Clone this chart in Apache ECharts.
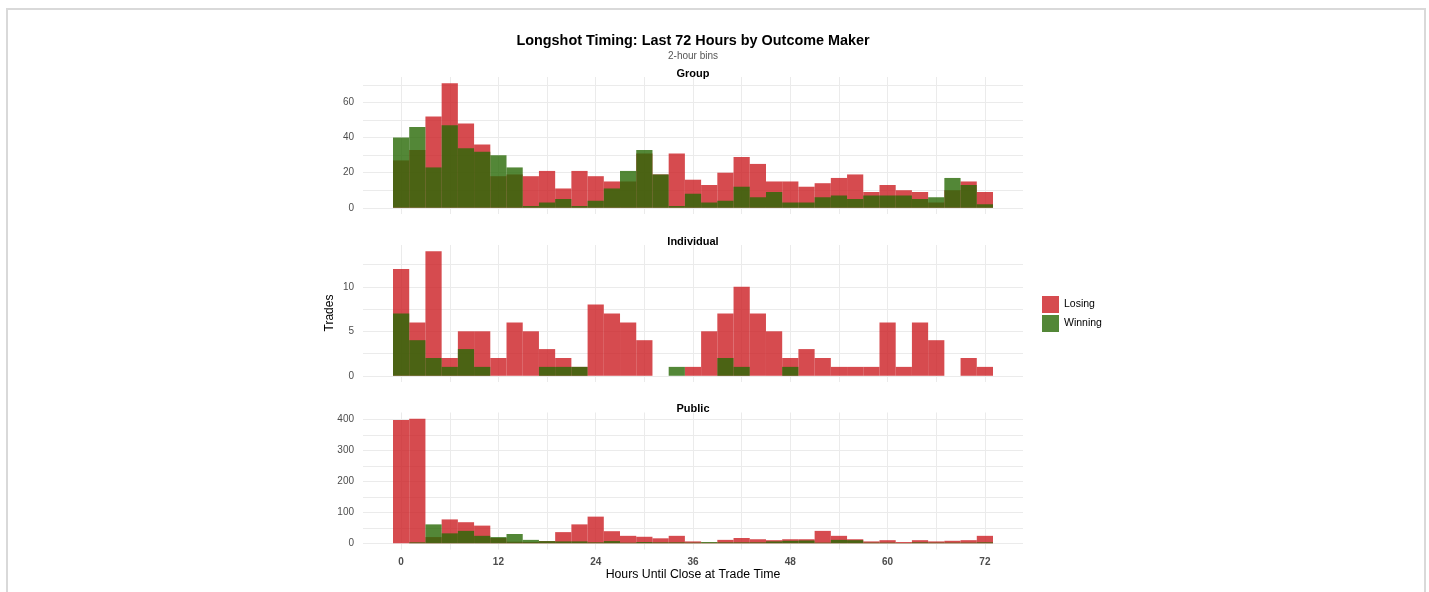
<!DOCTYPE html>
<html>
<head>
<meta charset="utf-8">
<script src="https://cdn.jsdelivr.net/npm/echarts@6/dist/echarts.min.js"></script>
<style>
  html, body { margin: 0; padding: 0; background: #fff; }
  #chart { width: 1429px; height: 592px; }
  .frame { position: absolute; left: 6px; top: 8px; width: 1416px; height: 600px;
           border: 2px solid #d9d9d9; pointer-events: none; }
</style>
</head>
<body>
<div id="chart"></div>
<div class="frame"></div>
<script>
// bin centres, hours until close (2-hour bins)
const hours = [0, 2, 4, 6, 8, 10, 12, 14, 16, 18, 20, 22, 24, 26, 28, 30, 32, 34, 36,
  38, 40, 42, 44, 46, 48, 50, 52, 54, 56, 58, 60, 62, 64, 66, 68, 70, 72]

const groupLosing = [27, 33, 52, 71, 48, 36, 18, 19, 18, 21, 11, 21, 18, 15, 15, 31, 19, 31, 16,
  13, 20, 29, 25, 15, 15, 12, 14, 17, 19, 9, 13, 10, 9, 3, 10, 15, 9]
const groupWinning = [40, 46, 23, 47, 34, 32, 30, 23, 1, 3, 5, 1, 4, 11, 21, 33, 19, 1, 8,
  3, 4, 12, 6, 9, 3, 3, 6, 7, 5, 7, 7, 7, 5, 6, 17, 13, 2]

const indivLosing = [12, 6, 14, 2, 5, 5, 2, 6, 5, 3, 2, 1, 8, 7, 6, 4, 0, 0, 1,
  5, 7, 10, 7, 5, 2, 3, 2, 1, 1, 1, 6, 1, 6, 4, 0, 2, 1]
const indivWinning = [7, 4, 2, 1, 3, 1, 0, 0, 0, 1, 1, 1, 0, 0, 0, 0, 0, 1, 0,
  0, 2, 1, 0, 0, 1, 0, 0, 0, 0, 0, 0, 0, 0, 0, 0, 0, 0]

const publicLosing = [398, 402, 20, 77, 68, 57, 17, 5, 4, 7, 36, 61, 86, 39, 24, 21, 16, 24, 6,
  2, 11, 17, 13, 10, 13, 13, 40, 24, 13, 6, 10, 4, 10, 6, 8, 10, 24]
const publicWinning = [0, 3, 61, 32, 40, 24, 20, 30, 11, 7, 6, 6, 3, 7, 2, 4, 3, 3, 2,
  4, 3, 3, 3, 6, 8, 9, 2, 11, 10, 2, 2, 1, 3, 2, 2, 2, 3]

const panels = ['Group', 'Individual', 'Public']
const xTicks = [0, 12, 24, 36, 48, 60, 72]
const xGrid = [0, 6, 12, 18, 24, 30, 36, 42, 48, 54, 60, 66, 72]
const yTicks = [[0, 20, 40, 60], [0, 5, 10], [0, 100, 200, 300, 400]]
const yGrid = [[0, 10, 20, 30, 40, 50, 60, 70], [0, 2.5, 5, 7.5, 10, 12.5], [0, 50, 100, 150, 200, 250, 300, 350, 400]]

const losingColor = 'rgba(204, 30, 35, 0.8)'
const winningColor = 'rgba(40, 105, 5, 0.8)'
const font = 'Liberation Sans, Arial, sans-serif'

const series = [
  [groupLosing, groupWinning],
  [indivLosing, indivWinning],
  [publicLosing, publicWinning],
]

const gridTops = [77, 245, 412.5]
const centerX = 693
const binWidth = 2

function renderBar(params, api) {
  const x = api.value(0)
  const y = api.value(1)
  if (!y) return
  const p0 = api.coord([x - binWidth / 2, y])
  const p1 = api.coord([x + binWidth / 2, 0])
  return {
    type: 'rect',
    shape: { x: p0[0], y: p0[1], width: p1[0] - p0[0], height: p1[1] - p0[1] },
    style: { fill: api.visual('color') },
  }
}

const grids = []
const xAxes = []
const yAxes = []
const chartSeries = []
const titles = [
  { text: 'Longshot Timing: Last 72 Hours by Outcome Maker', left: centerX, top: 34, textAlign: 'center', padding: 0,
    textStyle: { fontFamily: font, fontSize: 14.4, fontWeight: 'bold', color: '#000' } },
  { text: '2-hour bins', left: centerX, top: 51, textAlign: 'center', padding: 0,
    textStyle: { fontFamily: font, fontSize: 10, fontWeight: 'normal', color: '#555' } },
]

panels.forEach((name, i) => {
  const maxVal = Math.max(...series[i][0], ...series[i][1])
  grids.push({ left: 363, width: 660, top: gridTops[i], height: 137 })
  xAxes.push({
    type: 'value', gridIndex: i, min: -4.7, max: 76.7,
    axisLine: { show: false }, axisTick: { show: false, customValues: xGrid },
    axisLabel: {
      show: i === 2, customValues: xTicks, margin: 8,
      color: '#4d4d4d', fontWeight: 'bold', fontSize: 10, fontFamily: font,
    },
    splitLine: { show: true, customValues: xGrid, lineStyle: { color: '#ebebeb', width: 1 } },
  })
  yAxes.push({
    type: 'value', gridIndex: i, min: -0.05 * maxVal, max: 1.05 * maxVal,
    axisLine: { show: false }, axisTick: { show: false, customValues: yGrid[i] },
    axisLabel: { customValues: yTicks[i], margin: 9, color: '#4d4d4d', fontSize: 10, fontFamily: font },
    splitLine: { show: true, customValues: yGrid[i], lineStyle: { color: '#ebebeb', width: 1 } },
  })
  chartSeries.push({
    name: 'Losing', type: 'custom', xAxisIndex: i, yAxisIndex: i,
    itemStyle: { color: losingColor },
    encode: { x: 0, y: 1 },
    data: hours.map((h, k) => [h, series[i][0][k]]),
    renderItem: renderBar,
  })
  chartSeries.push({
    name: 'Winning', type: 'custom', xAxisIndex: i, yAxisIndex: i,
    itemStyle: { color: winningColor },
    encode: { x: 0, y: 1 },
    data: hours.map((h, k) => [h, series[i][1][k]]),
    renderItem: renderBar,
  })
  titles.push({
    text: name, left: centerX, top: gridTops[i] - 9, textAlign: 'center', padding: 0,
    textStyle: { fontFamily: font, fontSize: 11, fontWeight: 'bold', color: '#000' },
  })
})

const chart = echarts.init(document.getElementById('chart'), null, { renderer: 'canvas' })
chart.setOption({
  backgroundColor: '#fff',
  animation: false,
  title: titles,
  legend: {
    orient: 'vertical', left: 1042, top: 296, padding: 0, itemWidth: 17, itemHeight: 17, itemGap: 2,
    icon: 'rect', data: ['Losing', 'Winning'],
    textStyle: { fontFamily: font, fontSize: 10.5, color: '#000' },
  },
  grid: grids,
  xAxis: xAxes,
  yAxis: yAxes,
  series: chartSeries,
  graphic: [
    { type: 'text', x: centerX, y: 575,
      style: { text: 'Hours Until Close at Trade Time', font: '12.3px ' + font, fill: '#000',
        align: 'center', verticalAlign: 'middle' } },
    { type: 'text', x: 330, y: 313, rotation: Math.PI / 2,
      style: { text: 'Trades', font: '12px ' + font, fill: '#000', align: 'center', verticalAlign: 'middle' } },
  ],
})
</script>
</body>
</html>
